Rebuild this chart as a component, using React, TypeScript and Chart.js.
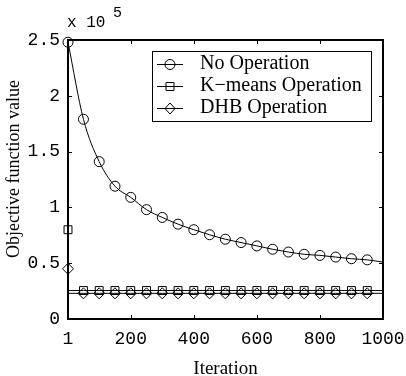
import React, { useEffect, useRef } from 'react';
import { Chart, registerables } from 'chart.js';

Chart.register(...registerables);

// ---- data ----
const noOpIterations = [1, 50, 100, 150, 200, 250, 300, 350, 400, 450, 500, 550, 600, 650, 700, 750, 800, 850, 900, 950, 1000];
const noOpValues = [248000, 179000, 141000, 119000, 109000, 98000, 91000, 85000, 80000, 75500, 71500, 68500, 65500, 62500, 60000, 58000, 57000, 55500, 54000, 53000, 51000];

const clusterIterations = [1, 2, 50, 100, 150, 200, 250, 300, 350, 400, 450, 500, 550, 600, 650, 700, 750, 800, 850, 900, 950, 1000];
const kmeansValues = [80000, 25500, 25500, 25500, 25500, 25500, 25500, 25500, 25500, 25500, 25500, 25500, 25500, 25500, 25500, 25500, 25500, 25500, 25500, 25500, 25500, 25500];
const dhbValues = [45000, 23000, 23000, 23000, 23000, 23000, 23000, 23000, 23000, 23000, 23000, 23000, 23000, 23000, 23000, 23000, 23000, 23000, 23000, 23000, 23000, 23000];

const markerIterations = [1, 50, 100, 150, 200, 250, 300, 350, 400, 450, 500, 550, 600, 650, 700, 750, 800, 850, 900, 950];

const seriesLabels = ['No Operation', 'K\u2212means Operation', 'DHB Operation'];
const xTickValues = [1, 200, 400, 600, 800, 1000];
const yTickValues = [0, 50000, 100000, 150000, 200000, 250000];
const yExponent = 5;
const xTitle = 'Iteration';
const yTitle = 'Objective function value';

const SERIF = '"Liberation Serif", "Times New Roman", serif';
const MONO = '"Liberation Mono", "Courier New", monospace';

function drawMarker(ctx: CanvasRenderingContext2D, style: string, x: number, y: number) {
  ctx.beginPath();
  if (style === 'circle') {
    ctx.arc(x, y, 5, 0, Math.PI * 2);
  } else if (style === 'rect') {
    ctx.rect(x - 4, y - 4, 8, 8);
  } else {
    ctx.moveTo(x - 5, y);
    ctx.lineTo(x, y - 5.5);
    ctx.lineTo(x + 5, y);
    ctx.lineTo(x, y + 5.5);
    ctx.closePath();
  }
  ctx.stroke();
}

const decorPlugin = {
  id: 'decor',
  afterDraw(chart: any) {
    const { ctx, chartArea } = chart;
    const { left, right, top, bottom } = chartArea;
    const xs = chart.scales.x;
    const ys = chart.scales.y;
    ctx.save();
    ctx.strokeStyle = '#000';
    ctx.fillStyle = '#000';
    // frame
    ctx.lineWidth = 2;
    ctx.strokeRect(left, top, right - left, bottom - top);
    // inward ticks
    ctx.lineWidth = 1;
    ctx.beginPath();
    xTickValues.forEach((v) => {
      const px = Math.round(xs.getPixelForValue(v)) + 0.5;
      ctx.moveTo(px, bottom);
      ctx.lineTo(px, bottom - 4);
      ctx.moveTo(px, top);
      ctx.lineTo(px, top + 4);
    });
    yTickValues.forEach((v) => {
      const py = Math.round(ys.getPixelForValue(v)) + 0.5;
      ctx.moveTo(left, py);
      ctx.lineTo(left + 4, py);
      ctx.moveTo(right, py);
      ctx.lineTo(right - 4, py);
    });
    ctx.stroke();

    // exponent label
    ctx.textAlign = 'left';
    ctx.textBaseline = 'alphabetic';
    ctx.font = '16px ' + MONO;
    ctx.fillText('x 10', left - 1, 27);
    ctx.font = '15px ' + MONO;
    ctx.fillText(String(yExponent), 113, 17);

    // y title
    ctx.save();
    ctx.translate(14, 169);
    ctx.rotate(-Math.PI / 2);
    ctx.font = '18px ' + SERIF;
    ctx.textAlign = 'center';
    ctx.textBaseline = 'middle';
    ctx.fillText(yTitle, 0, 0);
    ctx.restore();

    // legend
    const lx = 152, ly = 51, lw = 219, lh = 70;
    ctx.fillStyle = '#fff';
    ctx.fillRect(lx, ly, lw, lh);
    ctx.strokeStyle = '#000';
    ctx.lineWidth = 1;
    ctx.strokeRect(lx + 0.5, ly + 0.5, lw, lh);
    const styles = ['circle', 'rect', 'diamond'];
    chart.data.datasets.forEach((ds: any, i: number) => {
      const yy = 64 + i * 22;
      ctx.beginPath();
      ctx.moveTo(157, yy + 0.5);
      ctx.lineTo(183, yy + 0.5);
      ctx.stroke();
      ctx.fillStyle = '#fff';
      drawMarker(ctx, styles[i], 170, yy + 0.5);
      ctx.fillStyle = '#000';
      ctx.font = '20px ' + SERIF;
      ctx.textAlign = 'left';
      ctx.textBaseline = 'middle';
      ctx.fillText(ds.label, 200, yy);
    });
    ctx.restore();
  },
};

export default function App() {
  const canvasRef = useRef<HTMLCanvasElement | null>(null);

  useEffect(() => {
    if (!canvasRef.current) return;
    const markerRadius = (r: number) => (c: any) =>
      c.raw && markerIterations.includes(c.raw.x) ? r : 0;

    const chart = new Chart(canvasRef.current, {
      type: 'line',
      data: {
        datasets: [
          {
            label: seriesLabels[0],
            data: noOpIterations.map((x, i) => ({ x, y: noOpValues[i] })),
            borderColor: '#000',
            borderWidth: 1,
            backgroundColor: 'rgba(0,0,0,0)',
            pointStyle: 'circle',
            pointRadius: markerRadius(5),
            pointBorderColor: '#000',
            pointBackgroundColor: 'rgba(0,0,0,0)',
            pointBorderWidth: 1,
            cubicInterpolationMode: 'monotone',
            clip: false,
          },
          {
            label: seriesLabels[1],
            data: clusterIterations.map((x, i) => ({ x, y: kmeansValues[i] })),
            borderColor: '#000',
            borderWidth: 1,
            backgroundColor: 'rgba(0,0,0,0)',
            pointStyle: 'rect',
            pointRadius: markerRadius(5.6),
            pointBorderColor: '#000',
            pointBackgroundColor: 'rgba(0,0,0,0)',
            pointBorderWidth: 1,
            tension: 0,
            clip: false,
          },
          {
            label: seriesLabels[2],
            data: clusterIterations.map((x, i) => ({ x, y: dhbValues[i] })),
            borderColor: '#000',
            borderWidth: 1,
            backgroundColor: 'rgba(0,0,0,0)',
            pointStyle: 'rectRot',
            pointRadius: markerRadius(5.5),
            pointBorderColor: '#000',
            pointBackgroundColor: 'rgba(0,0,0,0)',
            pointBorderWidth: 1,
            tension: 0,
            clip: false,
          },
        ],
      } as any,
      options: {
        animation: false,
        responsive: false,
        maintainAspectRatio: false,
        layout: { padding: { top: 40, right: 23, bottom: 0, left: 0 } },
        plugins: {
          legend: { display: false },
          tooltip: { enabled: false },
        },
        scales: {
          x: {
            type: 'linear',
            min: 1,
            max: 1000,
            afterBuildTicks: (s: any) => {
              s.ticks = xTickValues.map((v) => ({ value: v }));
            },
            afterFit: (s: any) => {
              s.height = 57;
              s.paddingLeft = 0;
              s.paddingRight = 0;
            },
            grid: { display: false, drawTicks: false },
            border: { display: false },
            ticks: {
              autoSkip: false,
              maxRotation: 0,
              padding: 9,
              color: '#000',
              font: { family: MONO, size: 18 },
              callback: (v: any) => String(v),
            },
            title: {
              display: true,
              text: xTitle,
              color: '#000',
              font: { family: SERIF, size: 19, lineHeight: 0.75 },
              padding: { top: 0, bottom: 0 },
            },
          },
          y: {
            type: 'linear',
            min: 0,
            max: 250000,
            afterBuildTicks: (s: any) => {
              s.ticks = yTickValues.map((v) => ({ value: v }));
            },
            afterFit: (s: any) => {
              s.width = 68;
              s.paddingTop = 0;
              s.paddingBottom = 0;
            },
            grid: { display: false, drawTicks: false },
            border: { display: false },
            ticks: {
              autoSkip: false,
              padding: 8,
              color: '#000',
              font: { family: MONO, size: 18 },
              callback: (v: any) => String(v / Math.pow(10, yExponent)),
            },
          },
        },
      } as any,
      plugins: [decorPlugin],
    });
    return () => chart.destroy();
  }, []);

  return (
    <div style={{ position: 'fixed', left: 0, top: 0, width: 406, height: 376, background: '#fff' }}>
      <canvas ref={canvasRef} width={406} height={376} style={{ display: 'block' }} />
    </div>
  );
}
